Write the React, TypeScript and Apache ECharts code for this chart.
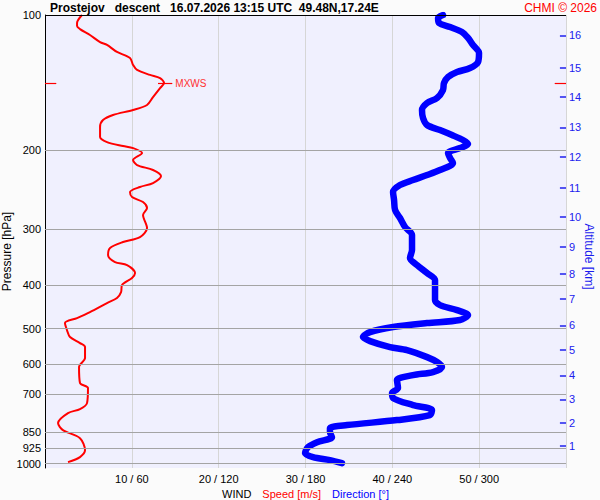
import * as echarts from 'echarts';
import { useEffect, useRef } from 'react';

const TITLE = 'Prostejov   descent   16.07.2026 13:15 UTC  49.48N,17.24E';
const COPYRIGHT = 'CHMI © 2026';
const FONT = '"Liberation Sans", Arial, sans-serif';

// pressure levels with a grid line [hPa]
const pressureLevels = [100, 200, 300, 400, 500, 600, 700, 850, 925, 1000];

// altitude ticks on the right side: km and the pressure they sit at
const altitudeKm = [1, 2, 3, 4, 5, 6, 7, 8, 9, 10, 11, 12, 13, 14, 15, 16];
const altitudeP = [914, 811, 719, 636, 558, 492, 430, 377, 329, 282, 243, 207, 178, 152, 131, 111];

// x axis ticks: speed [m/s] / direction [deg]
const speedTicks = [10, 20, 30, 40, 50];
const directionTicks = [60, 120, 180, 240, 300];

// wind speed profile
const speedP = [
  100, 104.2, 105.8, 107.5, 110.8, 114.9, 116.6, 120.9, 124.7, 129.2, 132.6, 136, 138.2, 141.8,
  145.5, 152.4, 158.7, 162.8, 167.1, 171.5, 177.7, 187.1, 192, 196, 198, 203.1, 210.5, 216,
  221.6, 228.6, 236.9, 241.8, 248.1, 254.6, 261.2, 269.4, 279.2, 298.5, 312.6, 320.7, 330.7,
  342.8, 355.4, 361, 376.1, 385.9, 400, 414.7, 427.6, 438.7, 459.5, 473.8, 486.1, 503.9, 522.4,
  538.8, 550, 582, 609.4, 661.6, 678.8, 733.2, 756.1, 771.8, 812.4, 842.2, 877.6, 933.3, 967.2,
  992.4,
];
const speedV = [
  4.26, 3.69, 3.69, 4.03, 5.18, 6.34, 7.14, 8.29, 9.79, 10.14, 10.6, 12.1, 13.25, 13.71,
  13.25, 12.44, 11.75, 10.14, 7.83, 6.68, 6.34, 6.34, 7.14, 8.99, 10.14, 11.18, 10.14, 10.6,
  12.44, 13.36, 12.44, 10.94, 9.79, 10.02, 11.29, 11.75, 11.29, 11.75, 10.94, 8.99, 7.49,
  7.26, 8.06, 9.45, 10.37, 10.02, 8.87, 8.76, 8.29, 7.14, 5.18, 3.69, 2.3, 2.53, 2.88,
  4.03, 4.61, 4.61, 3.92, 4.03, 4.95, 4.84, 4.03, 2.65, 1.5, 2.07, 4.03, 4.61, 4.03,
  2.65,
];

// wind direction profile [deg]
const dirP = [
  100, 101.5, 104.2, 106.4, 109.1, 112.5, 116.6, 121.5, 127.3, 131.3, 134, 137.5, 141.8, 147,
  153.1, 157.1, 162.8, 169.7, 175.9, 180.5, 185.2, 190, 194, 198, 203.1, 208.4, 213.8, 221.6,
  227.4, 233.3, 239.4, 248.1, 258.6, 272.2, 283.5, 296.9, 309.4, 334.2, 348.2, 361, 376.1,
  389.9, 432.1, 443.3, 454.8, 466.6, 478.6, 486.1, 496.2, 509.1, 522.4, 533.3, 550, 558.5,
  579, 593.9, 609.4, 625.2, 635, 651.4, 678.8, 696.5, 714.5, 740.7, 760, 779.8, 800, 820.8,
  833.6, 850.9, 873.1, 895.9, 919.1, 947.9, 967.2, 982.2, 997.5,
];
const dirV = [
  275, 271.6, 272.3, 279.9, 288.1, 292.3, 295.7, 299.9, 299.2, 293.7, 284.7, 278.5, 275.7, 275,
  270.9, 264, 260.5, 261.2, 264, 272.9, 281.2, 288.8, 292.3, 286.8, 278.5, 279.9, 281.9, 272.9,
  264, 254.3, 245.3, 240.5, 241.2, 241.9, 245.3, 248.8, 253.6, 253.6, 252.2, 257.1, 264,
  269.5, 269.5, 272.9, 284.7, 292.3, 286.8, 264, 240.5, 224.6, 219.7, 224.6, 238.4, 250.1,
  264, 270.9, 274.3, 268.1, 254.3, 243.2, 243.9, 239.8, 240.5, 254.3, 267.4, 266, 243.2, 208.7,
  196.9, 196.9, 198.3, 188, 181.7, 179.7, 185.2, 196.9, 205.2,
];

const X_MAX = 60;

const App = () => {
  const chartRef = useRef<HTMLDivElement>(null);

  useEffect(() => {
    if (!chartRef.current) return;
    const chart = echarts.init(chartRef.current, null, { renderer: 'svg' });

    // maximum wind
    let iMax = 0;
    speedV.forEach((v, i) => {
      if (v > speedV[iMax]) iMax = i;
    });
    const mxP = speedP[iMax];
    const mxV = speedV[iMax];
    const redLine = { type: 'solid', width: 1.2, color: '#ff0000' };

    const option: echarts.EChartsOption = {
      animation: false,
      backgroundColor: '#fbfbfb',
      textStyle: { fontFamily: FONT },
      title: [
        {
          text: TITLE,
          left: 50,
          top: 2,
          padding: 0,
          textStyle: { fontFamily: FONT, fontSize: 12, fontWeight: 'bold', color: '#000' },
        },
        {
          text: COPYRIGHT,
          right: 3,
          top: 2,
          padding: 0,
          textStyle: { fontFamily: FONT, fontSize: 12, fontWeight: 'normal', color: '#ff0000' },
        },
      ],
      grid: {
        left: 45,
        right: 34,
        top: 15,
        bottom: 32,
        outerBoundsMode: 'none',
        show: true,
        backgroundColor: '#f0f0fe',
        borderWidth: 0,
      } as any,
      xAxis: {
        type: 'value',
        min: 0,
        max: X_MAX,
        interval: 10,
        axisLine: { show: false },
        axisTick: { show: false },
        splitLine: { show: true, lineStyle: { color: '#d6d6d6', width: 1 } },
        axisLabel: {
          margin: 5,
          fontSize: 11,
          color: '#000',
          fontFamily: FONT,
          formatter: (v: number) => {
            const i = speedTicks.indexOf(v);
            return i < 0 ? '' : `${v} / ${directionTicks[i]}`;
          },
        },
        name: '{w|WIND}{s|Speed [m/s]}{d|Direction [°]}',
        nameLocation: 'middle',
        nameGap: 19,
        nameTextStyle: {
          fontSize: 11,
          fontFamily: FONT,
          rich: {
            w: { color: '#000', fontSize: 11, fontFamily: FONT },
            s: { color: '#ff0000', fontSize: 11, fontFamily: FONT, padding: [0, 0, 0, 11] },
            d: { color: '#0000ff', fontSize: 11, fontFamily: FONT, padding: [0, 0, 0, 11] },
          },
        },
      },
      yAxis: [
        {
          type: 'log',
          logBase: 10,
          min: 100,
          max: 1023,
          inverse: true,
          axisLine: { show: true, lineStyle: { color: '#000', width: 1 } },
          axisTick: { show: false },
          axisLabel: { show: false },
          splitLine: { show: false },
          name: 'Pressure [hPa]',
          nameLocation: 'middle',
          nameGap: 32,
          nameTextStyle: { fontSize: 12, color: '#000', fontFamily: FONT, padding: [0, 20, 0, 0] },
        },
        {
          type: 'log',
          logBase: 10,
          min: 100,
          max: 1023,
          inverse: true,
          position: 'right',
          axisLine: { show: false },
          axisTick: { show: false },
          axisLabel: { show: false },
          splitLine: { show: false },
          name: 'Altitude [km]',
          nameLocation: 'middle',
          nameRotate: -90,
          nameGap: 17,
          nameTextStyle: { fontSize: 12, color: '#1a1aee', fontFamily: FONT, padding: [0, 0, 0, 30] },
        },
      ],
      series: [
        {
          // pressure grid lines and their labels
          type: 'line',
          data: [],
          z: 1,
          silent: true,
          markLine: {
            silent: true,
            symbol: ['none', 'none'],
            lineStyle: { type: 'solid', width: 1, color: '#a4a4a4' },
            label: {
              position: 'start',
              distance: 4,
              color: '#000',
              fontSize: 11,
              fontFamily: FONT,
            },
            emphasis: { disabled: true },
            data: pressureLevels.map((p) => ({
              yAxis: p,
              lineStyle: { color: p === 100 ? '#000' : '#a4a4a4' },
              label: { formatter: String(p) },
            })),
          },
        },
        {
          // altitude ticks on the right
          type: 'line',
          data: [],
          z: 2,
          silent: true,
          markLine: {
            silent: true,
            symbol: ['none', 'none'],
            lineStyle: { type: 'solid', width: 1.5, color: '#2020ee' },
            label: {
              position: 'end',
              distance: 3,
              color: '#2020ee',
              fontSize: 11,
              fontFamily: FONT,
            },
            emphasis: { disabled: true },
            data: altitudeKm.map((km, i) => [
              { coord: [X_MAX - 0.7, altitudeP[i]], label: { formatter: String(km) } },
              { coord: [X_MAX, altitudeP[i]] },
            ]) as any,
          },
        },
        {
          name: 'Speed',
          type: 'line',
          z: 3,
          symbol: 'none',
          smooth: 0.3,
          lineStyle: { color: '#ff0000', width: 2 },
          data: speedP.map((p, i) => [speedV[i], p]),
          markLine: {
            silent: true,
            symbol: ['none', 'none'],
            lineStyle: redLine,
            emphasis: { disabled: true },
            label: { show: false },
            data: [
              [
                { coord: [mxV - 0.7, mxP], lineStyle: redLine },
                {
                  coord: [mxV + 0.95, mxP],
                  label: {
                    show: true,
                    position: 'end',
                    distance: 3,
                    formatter: 'MXWS',
                    color: '#ff3030',
                    fontSize: 10,
                    fontFamily: FONT,
                  },
                },
              ],
              [{ coord: [0, mxP], lineStyle: redLine }, { coord: [1.3, mxP] }],
              [{ coord: [X_MAX - 1.3, mxP], lineStyle: redLine }, { coord: [X_MAX, mxP] }],
            ] as any,
          },
        },
        {
          name: 'Direction',
          type: 'line',
          z: 4,
          symbol: 'none',
          smooth: 0.3,
          lineStyle: { color: '#0000ff', width: 6.5, cap: 'round', join: 'round' },
          data: dirP.map((p, i) => [dirV[i] / 6, p]),
        },
      ],
    };

    chart.setOption(option);

    return () => {
      chart.dispose();
    };
  }, []);

  return (
    <div
      ref={chartRef}
      style={{ position: 'fixed', left: 0, top: 0, width: 600, height: 500 }}
    />
  );
};

export default App;
